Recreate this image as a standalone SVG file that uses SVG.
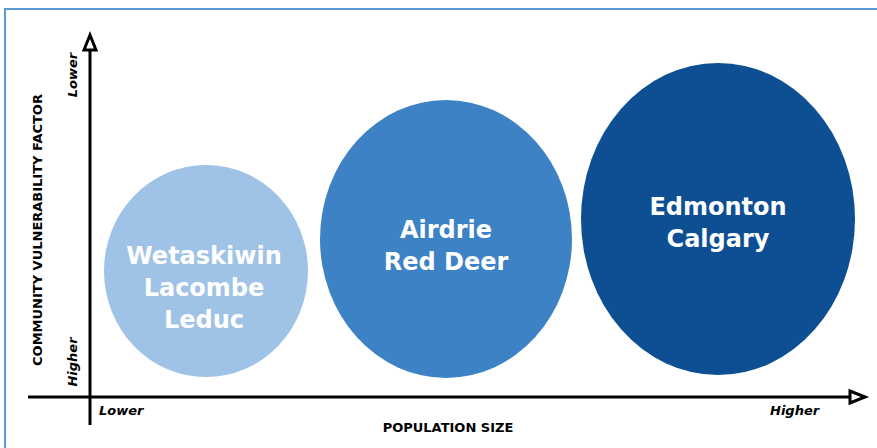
<svg xmlns="http://www.w3.org/2000/svg" width="877" height="448" viewBox="0 0 877 448">
  <defs>
    <style>
      .frame { stroke: #5b9bd5; stroke-width: 2; fill: none; }
      .axis { stroke: #000; stroke-width: 3; fill: none; }
      .head { stroke: #000; stroke-width: 3; fill: #fff; stroke-linejoin: miter; }
      .city { font-family: "DejaVu Sans", "Open Sans", sans-serif; font-weight: 700; font-size: 24px; fill: #fff; text-anchor: middle; }
      .tick { font-family: "DejaVu Sans", "Open Sans", sans-serif; font-weight: 700; font-style: italic; font-size: 13px; fill: #000; }
      .title { font-family: "DejaVu Sans", "Open Sans", sans-serif; font-weight: 700; font-size: 13px; fill: #000; text-anchor: middle; }
    </style>
  </defs>
  <rect width="877" height="448" fill="#fff"/>
  <!-- page frame -->
  <path class="frame" d="M5,448 V9 H877"/>

  <!-- bubbles -->
  <g id="small-communities">
    <ellipse cx="206" cy="271" rx="102" ry="106" fill="#9fc3e7"/>
    <text class="city" x="204" y="264">Wetaskiwin</text>
    <text class="city" x="204" y="296">Lacombe</text>
    <text class="city" x="204" y="328">Leduc</text>
  </g>
  <g id="mid-communities">
    <ellipse cx="446" cy="239" rx="126" ry="139" fill="#3d82c4"/>
    <text class="city" x="446" y="238">Airdrie</text>
    <text class="city" x="446" y="270">Red Deer</text>
  </g>
  <g id="large-communities">
    <ellipse cx="718" cy="219" rx="137" ry="156" fill="#0d4f92"/>
    <text class="city" x="718" y="215">Edmonton</text>
    <text class="city" x="718" y="247">Calgary</text>
  </g>

  <!-- axes -->
  <g id="connectors">
    <line class="axis" x1="90" y1="50" x2="90" y2="425"/>
    <path class="head" d="M90,35 L84,50 L96,50 Z"/>
    <line class="axis" x1="28" y1="397" x2="850" y2="397"/>
    <path class="head" d="M865,397 L850,391 L850,403 Z"/>
  </g>

  <!-- axis labels -->
  <g id="y-axis-labels">
    <text class="tick" transform="translate(77,75) rotate(-90)" text-anchor="middle">Lower</text>
    <text class="tick" transform="translate(77,362) rotate(-90)" text-anchor="middle">Higher</text>
    <text class="title" transform="translate(42,230) rotate(-90)">COMMUNITY VULNERABILITY FACTOR</text>
  </g>
  <g id="x-axis-labels">
    <text class="tick" x="99" y="415">Lower</text>
    <text class="tick" x="770" y="415">Higher</text>
    <text class="title" x="448" y="432">POPULATION SIZE</text>
  </g>
</svg>
